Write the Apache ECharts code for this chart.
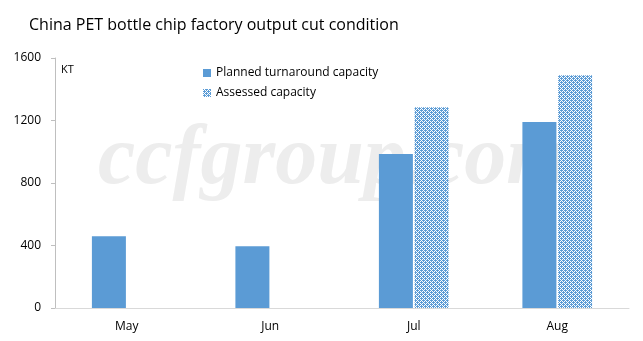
<!DOCTYPE html>
<html><head><meta charset="utf-8">
<script src="https://cdn.jsdelivr.net/npm/echarts@6/dist/echarts.min.js"></script>
<style>html,body{margin:0;padding:0;background:#fff}#c{width:643px;height:341px}</style>
</head><body><div id="c"></div>
<script>
const categories = ['May', 'Jun', 'Jul', 'Aug'];
const planned = [460, 395, 985, 1190];
const assessed = [null, null, 1285, 1490];
const yTicks = [0, 400, 800, 1200, 1600];

function makePattern() {
  const c = document.createElement('canvas');
  c.width = 4; c.height = 4;
  const ctx = c.getContext('2d');
  ctx.fillStyle = '#5b9bd5';
  ctx.fillRect(0, 0, 4, 4);
  ctx.fillStyle = '#ffffff';
  ctx.fillRect(1, 0, 1, 1);
  ctx.fillRect(3, 2, 1, 1);
  ctx.fillRect(0, 1, 1, 1);
  ctx.fillRect(2, 3, 1, 1);
  ctx.fillRect(2, 1, 1, 1);
  ctx.fillRect(0, 3, 1, 1);
  return c;
}
const pat = { image: makePattern(), repeat: 'repeat' };

const chart = echarts.init(document.getElementById('c'), null, { renderer: 'canvas' });
chart.setOption({
  animation: false,
  backgroundColor: '#fff',
  textStyle: { fontFamily: 'Open Sans' },
  title: {
    text: 'China PET bottle chip factory output cut condition',
    left: 24, top: 12,
    textStyle: { fontFamily: 'Open Sans', fontSize: 16, fontWeight: 'normal', color: '#000' }
  },
  graphic: [
    { type: 'text', left: 98, top: 119, z: -10, silent: true,
      style: { text: 'ccfgroup.com', fontFamily: 'Liberation Serif', fontStyle: 'italic', fontWeight: 'bold', fontSize: 84, fill: '#ededed' } },
    { type: 'text', left: 61, top: 64,
      style: { text: 'KT', fontFamily: 'Open Sans', fontSize: 11, fill: '#000' } }
  ],
  legend: {
    orient: 'vertical', left: 198, top: 62, itemGap: 8,
    itemWidth: 8, itemHeight: 8, icon: 'rect',
    textStyle: { fontFamily: 'Open Sans', fontSize: 12, color: '#000' },
    data: ['Planned turnaround capacity', 'Assessed capacity']
  },
  grid: { left: 55, right: 14, top: 58, bottom: 33 },
  xAxis: {
    type: 'category', data: categories,
    axisLine: { lineStyle: { color: '#d9d9d9' } },
    axisTick: { show: false },
    axisLabel: { color: '#000', fontSize: 12, margin: 13, fontFamily: 'Open Sans' }
  },
  yAxis: {
    type: 'value', min: yTicks[0], max: yTicks[yTicks.length - 1], interval: 400,
    axisLine: { show: true, lineStyle: { color: '#bfbfbf' } },
    axisTick: { show: true, length: 4, lineStyle: { color: '#bfbfbf' } },
    splitLine: { show: false },
    axisLabel: { color: '#000', fontSize: 12, margin: 14, fontFamily: 'Open Sans', formatter: v => String(v) }
  },
  series: [
    { name: 'Planned turnaround capacity', type: 'bar', data: planned,
      barWidth: 34, barGap: '5%', itemStyle: { color: '#5b9bd5' } },
    { name: 'Assessed capacity', type: 'bar', data: assessed,
      barWidth: 34, itemStyle: { color: pat } }
  ]
});
</script></body></html>
